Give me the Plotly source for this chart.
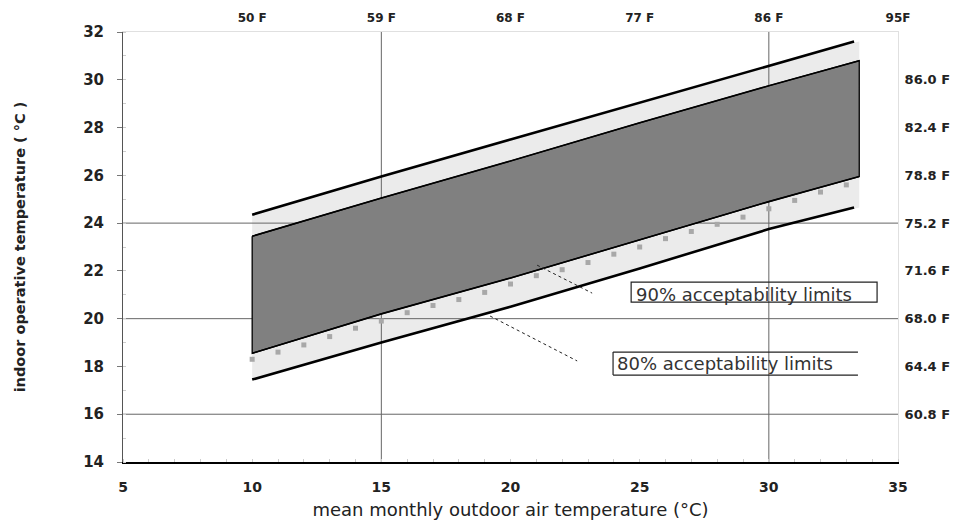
import plotly.graph_objects as go

# ---- data ----
x_band = [10, 15, 20, 25, 30, 33.5]
upper80 = [24.35, 25.95, 27.5, 29.05, 30.6, 31.6]
upper90 = [23.45, 25.05, 26.6, 28.2, 29.75, 30.8]
lower90 = [18.55, 20.2, 21.7, 23.3, 24.9, 25.95]
lower80 = [17.45, 19.0, 20.5, 22.1, 23.75, 24.65]

marker_x = list(range(10, 34))
marker_y = [18.3, 18.6, 18.9, 19.25, 19.6, 19.9, 20.25, 20.55, 20.8, 21.1, 21.45,
            21.8, 22.05, 22.35, 22.7, 23.0, 23.35, 23.65, 23.95, 24.25, 24.6,
            24.95, 25.3, 25.6]

x_ticks = [5, 10, 15, 20, 25, 30, 35]
top_ticks = [10, 15, 20, 25, 30, 35]
top_labels = ["50 F", "59 F", "68 F", "77 F", "86 F", "95F"]
y_ticks = [14, 16, 18, 20, 22, 24, 26, 28, 30, 32]
right_ticks = [16, 18, 20, 22, 24, 26, 28, 30]
right_labels = ["60.8 F", "64.4 F", "68.0 F", "71.6 F", "75.2 F", "78.8 F", "82.4 F", "86.0 F"]
grid_h = [16, 20, 24]
grid_v = [15, 30]

label90 = "90% acceptability limits"
label80 = "80% acceptability limits"
box90 = [24.67, 34.19, 20.69, 21.53]
box80 = [23.97, 33.45, 17.64, 18.6]
leader90 = ([21.03, 23.16], [22.24, 21.07])
leader80 = ([19.21, 22.58], [20.11, 18.23])

FONT = "DejaVu Sans, Verdana, sans-serif"
fig = go.Figure()

# light 80% band
fig.add_trace(go.Scatter(
    x=x_band + x_band[::-1], y=upper80 + lower80[::-1],
    fill="toself", fillcolor="#ebebeb", line=dict(width=0), mode="lines",
    hoverinfo="skip", showlegend=False))

# grid lines (above light band, below dark band)
for g in grid_h:
    fig.add_trace(go.Scatter(x=[5, 35], y=[g, g], mode="lines",
                             line=dict(color="#666666", width=1),
                             hoverinfo="skip", showlegend=False))
for g in grid_v:
    fig.add_trace(go.Scatter(x=[g, g], y=[14, 32], mode="lines",
                             line=dict(color="#666666", width=1),
                             hoverinfo="skip", showlegend=False))

# markers
fig.add_trace(go.Scatter(x=marker_x, y=marker_y, mode="markers",
                         marker=dict(symbol="square", size=5, color="#a8a8a8"),
                         hoverinfo="skip", showlegend=False))

# dark 90% band
fig.add_trace(go.Scatter(
    x=x_band + x_band[::-1] + [x_band[0]], y=upper90 + lower90[::-1] + [upper90[0]],
    fill="toself", fillcolor="#808080", line=dict(width=1.3, color="black"),
    mode="lines", hoverinfo="skip", showlegend=False))

# limit lines
for ys, w in [(upper80, 2.6), (lower80, 2.6), (upper90, 1.6), (lower90, 1.6)]:
    xs = x_band[:-1] + [33.3] if w > 2 else x_band
    fig.add_trace(go.Scatter(x=xs, y=ys, mode="lines",
                             line=dict(color="black", width=w),
                             hoverinfo="skip", showlegend=False))

# leaders
for lx, ly in [leader90, leader80]:
    fig.add_trace(go.Scatter(x=lx, y=ly, mode="lines",
                             line=dict(color="#222222", width=1, dash="dot"),
                             hoverinfo="skip", showlegend=False))

# invisible traces for secondary axes
fig.add_trace(go.Scatter(x=[5, 35], y=[14, 32], xaxis="x2", yaxis="y2", mode="markers",
                         marker=dict(opacity=0), hoverinfo="skip", showlegend=False))

# label boxes
fig.add_shape(type="rect", x0=box90[0], x1=box90[1], y0=box90[2], y1=box90[3],
              line=dict(color="#222222", width=1.2), layer="above")
for yy in (box80[2], box80[3]):
    fig.add_shape(type="line", x0=box80[0], x1=box80[1], y0=yy, y1=yy,
                  line=dict(color="#222222", width=1.2))
fig.add_shape(type="line", x0=box80[0], x1=box80[0], y0=box80[2], y1=box80[3],
              line=dict(color="#222222", width=1.2))
fig.add_annotation(x=box90[0] + 0.12, y=box90[2] - 0.22, text=label90,
                   xanchor="left", yanchor="bottom", showarrow=False,
                   font=dict(family=FONT, size=18, color="#333333"))
fig.add_annotation(x=box80[0] + 0.08, y=(box80[2] + box80[3]) / 2 + 0.02, text=label80,
                   xanchor="left", yanchor="middle", showarrow=False,
                   font=dict(family=FONT, size=18, color="#333333"))

fig.update_layout(
    width=959, height=525,
    margin=dict(l=123, r=61, t=32, b=63),
    paper_bgcolor="white", plot_bgcolor="white",
    xaxis=dict(range=[5, 35], tickvals=x_ticks, showgrid=False, zeroline=False,
               automargin=False,
               showline=True, linecolor="black", linewidth=2, ticks="",
               ticklabelstandoff=11,
               tickfont=dict(family=FONT, size=14, color="#222222", weight="bold"),
               minor=dict(ticks="inside", dtick=1, ticklen=3, tickcolor="#cccccc"),
               title=dict(text="mean monthly outdoor air temperature (°C)",
                          font=dict(family=FONT, size=18, color="#222222"), standoff=10)),
    yaxis=dict(range=[14, 32], tickvals=y_ticks, showgrid=False, zeroline=False,
               automargin=False,
               showline=True, linecolor="#555555", linewidth=1, ticks="outside",
               ticklen=5, tickcolor="#777777", ticklabelstandoff=10,
               tickfont=dict(family=FONT, size=15, color="#222222", weight="bold"),
               minor=dict(ticks="inside", dtick=1, ticklen=3, tickcolor="#cccccc"),
               title=dict(text="indoor operative temperature ( °C )",
                          font=dict(family=FONT, size=14.5, color="#222222", weight="bold"),
                          standoff=54)),
    xaxis2=dict(range=[5, 35], overlaying="x", side="top", tickvals=top_ticks,
                automargin=False,
                ticktext=top_labels, showgrid=False, zeroline=False, showline=True,
                linecolor="#e0e0e0", linewidth=1, ticks="", ticklabelstandoff=4,
                tickfont=dict(family=FONT, size=12, color="#222222", weight="bold")),
    yaxis2=dict(range=[14, 32], overlaying="y", side="right", tickvals=right_ticks,
                automargin=False,
                ticktext=right_labels, showgrid=False, zeroline=False, showline=True,
                linecolor="#e0e0e0", linewidth=1, ticks="", ticklabelstandoff=3,
                tickfont=dict(family=FONT, size=13, color="#222222", weight="bold")),
)

fig.write_html("out.html", config={"displayModeBar": False},
               post_script="document.body.style.margin='0';")
